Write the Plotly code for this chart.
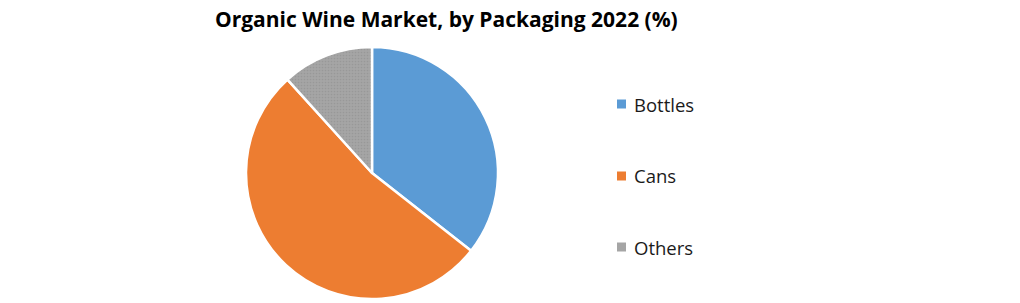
import plotly.graph_objects as go

categories = ["Bottles", "Cans", "Others"]
shares = [35.6, 52.7, 11.7]
colors = ["#5B9BD5", "#ED7D31", "#A5A5A5"]
title_text = "Organic Wine Market, by Packaging 2022 (%)"

W, H = 1020, 303

fig = go.Figure()
fig.add_trace(go.Pie(
    labels=categories,
    values=shares,
    sort=False,
    direction="clockwise",
    rotation=0,
    textinfo="none",
    hoverinfo="label+percent",
    marker=dict(
        colors=colors,
        line=dict(color="white", width=2.5),
        pattern=dict(shape=["", "", "."], size=3, solidity=0.25,
                     fgcolor="#8C8C8C", bgcolor=colors[2], fillmode="overlay"),
    ),
    domain=dict(x=[246 / W, 498 / W], y=[(H - 299) / H, (H - 47) / H]),
    showlegend=False,
))

# legend drawn as squares + text
legend_y = [104, 176, 247]
for cat, col, yc in zip(categories, colors, legend_y):
    fig.add_shape(type="rect", xref="paper", yref="paper",
                  x0=617 / W, x1=626 / W,
                  y0=(H - yc - 4.5) / H, y1=(H - yc + 4.5) / H,
                  fillcolor=col, line=dict(width=0))
    fig.add_annotation(text=cat, xref="paper", yref="paper",
                       x=632 / W, y=(H - yc) / H, xanchor="left", yanchor="middle",
                       showarrow=False,
                       font=dict(family="Open Sans, Liberation Sans, sans-serif", size=18.5, color="#1a1a1a"))

fig.add_annotation(text="<b>" + title_text + "</b>", xref="paper", yref="paper",
                   x=446 / W, y=(H - 19) / H, xanchor="center", yanchor="middle",
                   showarrow=False,
                   font=dict(family="Open Sans, Liberation Sans, sans-serif", size=21, color="#000000"))

fig.update_layout(
    width=W, height=H,
    margin=dict(l=0, r=0, t=0, b=0),
    paper_bgcolor="white",
    plot_bgcolor="white",
)

fig.write_html("out.html")
